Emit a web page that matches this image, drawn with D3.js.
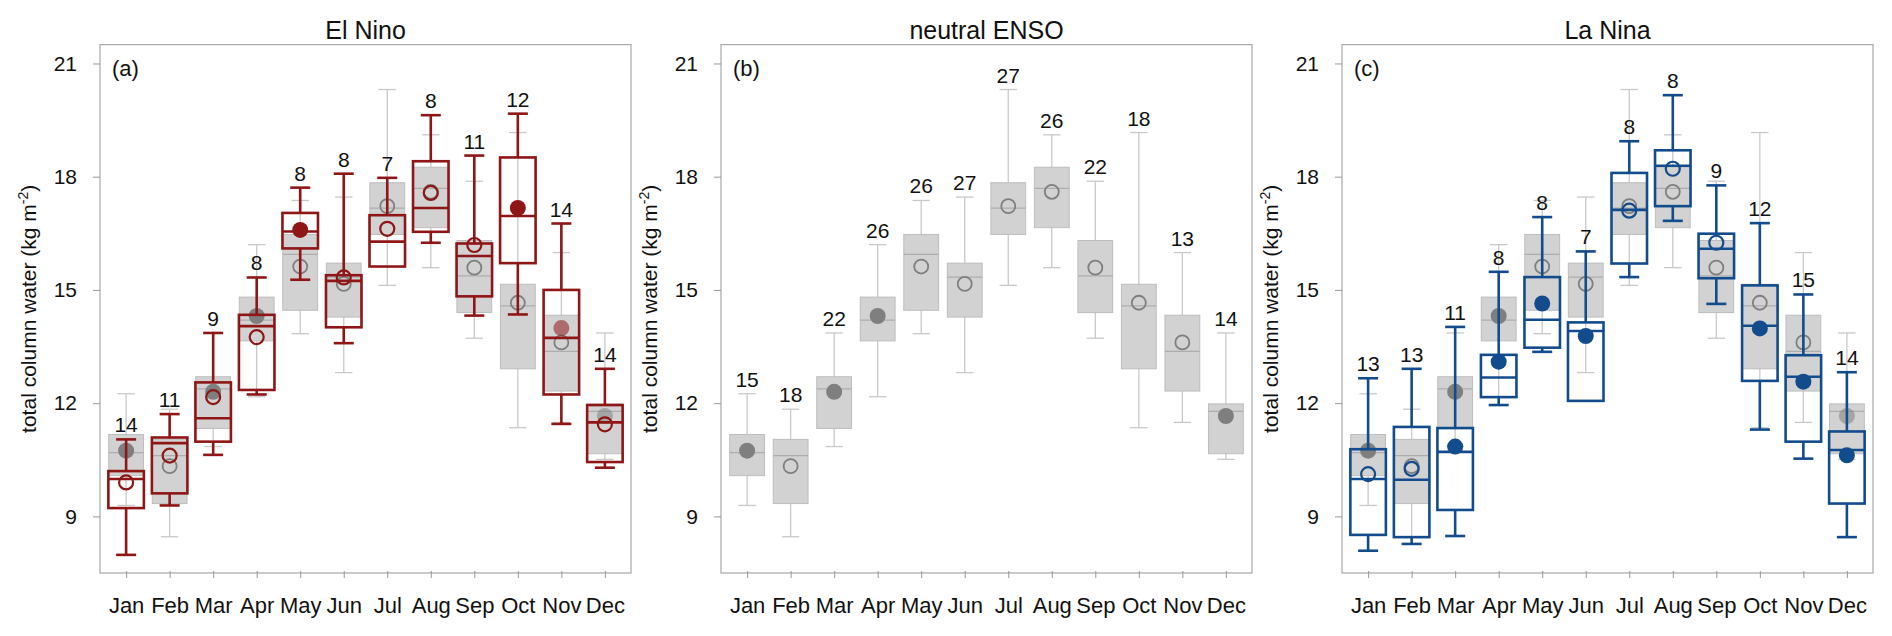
<!DOCTYPE html>
<html>
<head>
<meta charset="utf-8">
<script src="https://cdn.jsdelivr.net/npm/d3@7"></script>
<style>
  body { margin: 0; background: #fff; }
  #chart { width: 1892px; height: 636px; }
  text { font-family: "Liberation Sans", Arial, sans-serif; fill: #111; }
</style>
</head>
<body>
<div id="chart"></div>
<script>
// Months and panels
const months = ["Jan", "Feb", "Mar", "Apr", "May", "Jun", "Jul", "Aug", "Sep", "Oct", "Nov", "Dec"];
const panelTitles = ["El Nino", "neutral ENSO", "La Nina"];
const panelLetters = ["(a)", "(b)", "(c)"];
const yTicks = [9, 12, 15, 18, 21];

// neutral ENSO (grey) boxes, shared by all panels
const neuLo   = [9.29, 8.46, 10.85, 12.17, 13.84, 12.81, 15.12, 15.59, 13.72, 11.35, 11.49, 10.51];
const neuQ1   = [10.08, 9.34, 11.33, 13.65, 14.46, 14.28, 16.47, 16.65, 14.40, 12.91, 12.32, 10.66];
const neuMed  = [10.69, 10.61, 12.38, 14.20, 15.94, 15.34, 17.17, 17.69, 15.37, 14.58, 13.37, 11.78];
const neuQ3   = [11.17, 11.04, 12.70, 14.81, 16.47, 15.71, 17.84, 18.25, 16.31, 15.15, 14.33, 11.98];
const neuHi   = [12.25, 11.84, 13.86, 16.20, 17.37, 17.46, 20.31, 19.11, 17.88, 19.17, 15.99, 13.86];
const neuMean = [10.74, 10.33, 12.30, 14.31, 15.62, 15.16, 17.22, 17.60, 15.59, 14.66, 13.61, 11.66];
const neuN    = [15, 18, 22, 26, 26, 27, 27, 26, 22, 18, 13, 14];
// marker kind: f = filled, o = open, h = faded fill
const neuMark        = ["f", "o", "f", "f", "o", "o", "o", "o", "o", "o", "o", "f"];
const neuMarkOverlay = ["f", "o", "f", "f", "o", "o", "o", "o", "o", "o", "o", "h"];

// El Nino (red)
const ninoLo   = [7.98, 9.29, 10.63, 12.23, 15.27, 13.59, 15.62, 16.25, 14.32, 14.35, 11.45, 10.29];
const ninoQ1   = [9.22, 9.61, 10.98, 12.35, 16.10, 14.01, 15.62, 16.54, 14.83, 15.71, 12.23, 10.44];
const ninoMed  = [9.99, 10.94, 11.60, 14.04, 16.55, 15.24, 16.28, 17.17, 15.90, 16.96, 13.73, 11.49];
const ninoQ3   = [10.20, 11.09, 12.55, 14.34, 17.04, 15.39, 16.98, 18.41, 16.23, 18.51, 15.00, 11.95];
const ninoHi   = [11.04, 11.71, 13.86, 15.33, 17.71, 18.08, 17.97, 19.63, 18.56, 19.67, 16.76, 12.91];
const ninoMean = [9.90, 10.61, 12.16, 13.75, 16.59, 15.33, 16.62, 17.57, 16.19, 17.17, 13.99, 11.44];
const ninoN    = [14, 11, 9, 8, 8, 8, 7, 8, 11, 12, 14, 14];
const ninoMark = ["o", "o", "o", "o", "f", "o", "o", "o", "o", "f", "h", "o"];

// La Nina (blue)
const ninaLo   = [8.09, 8.27, 8.48, 11.95, 13.36, 12.06, 15.34, 16.83, 14.63, 11.30, 10.53, 8.45];
const ninaQ1   = [8.51, 8.45, 9.17, 12.16, 13.47, 12.06, 15.70, 17.22, 15.31, 12.59, 10.98, 9.34];
const ninaMed  = [9.99, 9.97, 10.71, 12.68, 14.21, 13.91, 17.12, 18.29, 16.09, 14.05, 12.70, 10.76];
const ninaQ3   = [10.78, 11.37, 11.34, 13.28, 15.34, 14.14, 18.10, 18.70, 16.49, 15.12, 13.27, 11.25];
const ninaHi   = [12.66, 12.91, 14.02, 15.48, 16.93, 16.02, 18.94, 20.16, 17.77, 16.77, 14.88, 12.82];
const ninaMean = [10.12, 10.26, 10.85, 13.10, 14.64, 13.78, 17.10, 18.21, 16.25, 13.98, 12.57, 10.62];
const ninaN    = [13, 13, 11, 8, 8, 7, 8, 8, 9, 12, 15, 14];
const ninaMark = ["o", "o", "f", "f", "f", "f", "o", "o", "o", "f", "f", "f"];

const RED = "#8e1616";
const BLUE = "#124c8c";
const GREY_DOT = "#7f7f7f";

function makeBoxes(lo, q1, med, q3, hi, mean, n, mark) {
  return months.map((m, i) => ({
    m: i + 1, lo: lo[i], q1: q1[i], med: med[i], q3: q3[i], hi: hi[i],
    mean: mean[i], n: n[i], mark: mark[i]
  }));
}

const neutralBoxes = makeBoxes(neuLo, neuQ1, neuMed, neuQ3, neuHi, neuMean, neuN, neuMark);
const neutralOverlay = makeBoxes(neuLo, neuQ1, neuMed, neuQ3, neuHi, neuMean, neuN, neuMarkOverlay);
const ninoBoxes = makeBoxes(ninoLo, ninoQ1, ninoMed, ninoQ3, ninoHi, ninoMean, ninoN, ninoMark);
const ninaBoxes = makeBoxes(ninaLo, ninaQ1, ninaMed, ninaQ3, ninaHi, ninaMean, ninaN, ninaMark);

const panels = [
  { grey: neutralOverlay, main: ninoBoxes, color: RED },
  { grey: neutralBoxes, main: null, color: null },
  { grey: neutralOverlay, main: ninaBoxes, color: BLUE }
];

const svg = d3.select("#chart")
  .append("svg")
  .attr("width", 1892)
  .attr("height", 636);

const panelLeft = [100, 721, 1342];
const plotW = 531;
const plotTop = 44.6;
const plotBottom = 573;

const x = d3.scaleLinear().domain([0.4, 12.6]).range([0, plotW]);
const y = d3.scaleLinear().domain([7.5, 21.5]).range([plotBottom, plotTop]);
const boxW = x(1.8) - x(1.0);   // full box width, 0.8 month

function drawMarkers(g, data, color, r, strokeW, cls) {
  g.selectAll("circle." + cls)
    .data(data)
    .enter()
    .append("circle")
    .attr("class", cls)
    .attr("cx", d => x(d.m))
    .attr("cy", d => y(d.mean))
    .attr("r", d => d.mark === "o" ? r - 1 : r)
    .attr("fill", d => d.mark === "o" ? "none" : color)
    .attr("fill-opacity", d => d.mark === "h" ? 0.55 : 1)
    .attr("stroke", d => d.mark === "o" ? color : "none")
    .attr("stroke-width", strokeW);
}

function drawWhiskers(g, data, color, width, capHalf, cls) {
  const wg = g.append("g").attr("class", cls);
  data.forEach(d => {
    [[d.q3, d.hi], [d.q1, d.lo]].forEach(([a, b]) => {
      if (Math.abs(a - b) < 0.01) return;
      wg.append("line")
        .attr("x1", x(d.m)).attr("x2", x(d.m))
        .attr("y1", y(a)).attr("y2", y(b))
        .attr("stroke", color).attr("stroke-width", width);
      wg.append("line")
        .attr("x1", x(d.m) - capHalf).attr("x2", x(d.m) + capHalf)
        .attr("y1", y(b)).attr("y2", y(b))
        .attr("stroke", color).attr("stroke-width", width);
    });
  });
}

panels.forEach((p, pi) => {
  const g = svg.append("g")
    .attr("transform", `translate(${panelLeft[pi]}, 0)`);

  // frame
  g.append("rect")
    .attr("x", 0).attr("y", plotTop)
    .attr("width", plotW).attr("height", plotBottom - plotTop)
    .attr("fill", "none")
    .attr("stroke", "#a9a9a9")
    .attr("stroke-width", 1.2);

  // grey neutral boxes
  drawWhiskers(g, p.grey, "#c9c9c9", 1.3, 8.7, "grey-whisk");
  g.selectAll("rect.grey-box")
    .data(p.grey)
    .enter()
    .append("rect")
    .attr("class", "grey-box")
    .attr("x", d => x(d.m) - boxW / 2)
    .attr("y", d => y(d.q3))
    .attr("width", boxW)
    .attr("height", d => y(d.q1) - y(d.q3))
    .attr("fill", "#d2d2d2")
    .attr("stroke", "#bdbdbd")
    .attr("stroke-width", 1);
  g.selectAll("line.grey-med")
    .data(p.grey)
    .enter()
    .append("line")
    .attr("class", "grey-med")
    .attr("x1", d => x(d.m) - boxW / 2)
    .attr("x2", d => x(d.m) + boxW / 2)
    .attr("y1", d => y(d.med))
    .attr("y2", d => y(d.med))
    .attr("stroke", "#adadad")
    .attr("stroke-width", 1.3);
  drawMarkers(g, p.grey, GREY_DOT, 8, 1.8, "grey-dot");

  // coloured boxes
  let labelBoxes = p.grey;
  if (p.main) {
    labelBoxes = p.main;
    const cw = boxW * 1.02;
    drawWhiskers(g, p.main, p.color, 2.6, 10, "main-whisk");
    g.selectAll("rect.main-box")
      .data(p.main)
      .enter()
      .append("rect")
      .attr("class", "main-box")
      .attr("x", d => x(d.m) - cw / 2)
      .attr("y", d => y(d.q3))
      .attr("width", cw)
      .attr("height", d => y(d.q1) - y(d.q3))
      .attr("fill", "none")
      .attr("stroke", p.color)
      .attr("stroke-width", 2.6);
    g.selectAll("line.main-med")
      .data(p.main)
      .enter()
      .append("line")
      .attr("class", "main-med")
      .attr("x1", d => x(d.m) - cw / 2)
      .attr("x2", d => x(d.m) + cw / 2)
      .attr("y1", d => y(d.med))
      .attr("y2", d => y(d.med))
      .attr("stroke", p.color)
      .attr("stroke-width", 2.6);
    drawMarkers(g, p.main, p.color, 8, 2.2, "main-dot");
  }

  // sample counts
  g.selectAll("text.count")
    .data(labelBoxes)
    .enter()
    .append("text")
    .attr("class", "count")
    .attr("x", d => x(d.m))
    .attr("y", d => y(d.hi) - 7)
    .attr("text-anchor", "middle")
    .attr("font-size", "21px")
    .text(d => d.n);

  // y axis
  const yAxis = g.append("g")
    .call(d3.axisLeft(y).tickValues(yTicks).tickSize(7).tickPadding(16));
  yAxis.select(".domain").remove();
  yAxis.selectAll("line").attr("stroke", "#999");
  yAxis.selectAll("text")
    .attr("font-size", "21px")
    .attr("font-family", "Liberation Sans, Arial, sans-serif")
    .attr("fill", "#111");

  // x axis
  const xAxis = g.append("g")
    .attr("transform", `translate(0, ${plotBottom})`)
    .call(d3.axisBottom(x).tickValues(d3.range(1, 13)).tickFormat(i => months[i - 1]).tickSize(5));
  xAxis.select(".domain").remove();
  xAxis.selectAll("line").attr("y1", -2).attr("stroke", "#999");
  xAxis.selectAll("text")
    .attr("y", 40)
    .attr("dy", null)
    .attr("font-size", "22px")
    .attr("font-family", "Liberation Sans, Arial, sans-serif")
    .attr("fill", "#111");

  // y label
  const yl = g.append("text")
    .attr("transform", `translate(-64, ${(plotTop + plotBottom) / 2}) rotate(-90)`)
    .attr("text-anchor", "middle")
    .attr("font-size", "21px");
  yl.append("tspan").text("total column water (kg m");
  yl.append("tspan").attr("dy", -8).attr("font-size", "14px").text("-2");
  yl.append("tspan").attr("dy", 8).text(")");

  // title and panel letter
  g.append("text")
    .attr("x", plotW / 2)
    .attr("y", 38.5)
    .attr("text-anchor", "middle")
    .attr("font-size", "25px")
    .text(panelTitles[pi]);

  g.append("text")
    .attr("x", 12)
    .attr("y", 76)
    .attr("font-size", "22px")
    .text(panelLetters[pi]);
});
</script>
</body>
</html>
